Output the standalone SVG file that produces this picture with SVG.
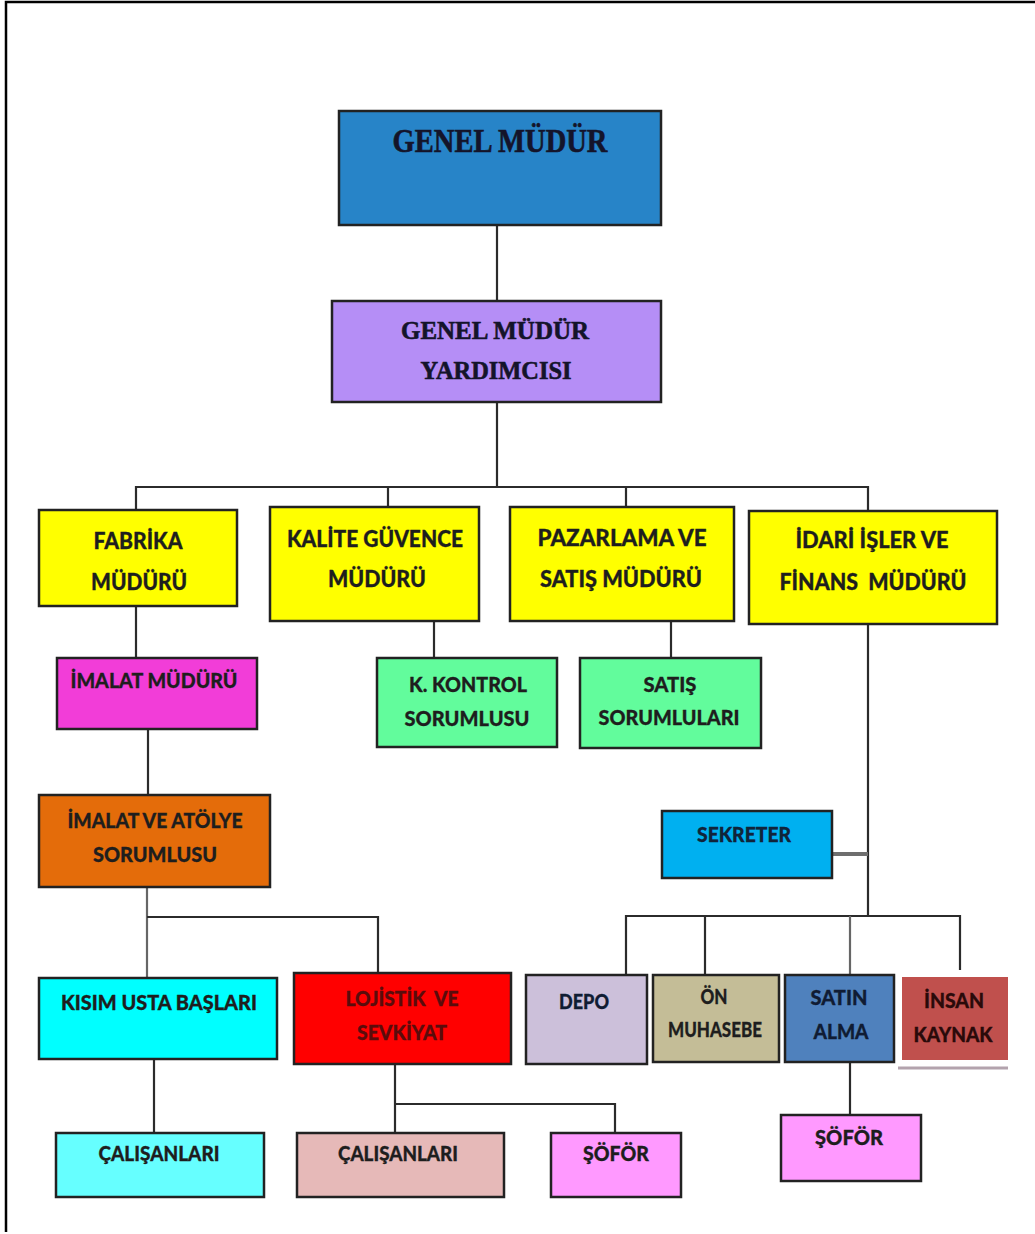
<svg xmlns="http://www.w3.org/2000/svg" width="1035" height="1234" viewBox="0 0 1035 1234">
<style>
.box{stroke:#222;stroke-width:2.5}
.c{fill:none;stroke:#2b2b2b;stroke-width:2.2}
.cg{fill:none;stroke:#666;stroke-width:2.2}
.serif{font-family:"Liberation Serif","Times New Roman",serif;font-weight:bold;fill:#14142a;stroke:#14142a;stroke-width:0.6;text-anchor:middle}
.t{font-family:Lato,"Open Sans","Liberation Sans",sans-serif;font-weight:900;text-anchor:middle;stroke-width:0.3}
.dk{fill:#1e1e1e;stroke:#1e1e1e}
.red{fill:#5a0c0c;stroke:#5a0c0c}
.nav{fill:#101c33;stroke:#101c33}
.sek{fill:#10243a;stroke:#10243a}
.mar{fill:#2a0a0a;stroke:#2a0a0a}
.t23{font-size:23px}
.t21{font-size:21px}
</style>
<rect width="1035" height="1234" fill="#ffffff"/>
<g id="frame"><path d="M6 1232V2H1035" fill="none" stroke="#000" stroke-width="2.5"/></g>

<g id="connectors">
<path class="c" d="M497 225V301"/>
<path class="c" d="M497 402V487M136 510V487H868V511M388 487V507M626 487V507"/>
<path class="c" d="M136 606V658"/>
<path class="c" d="M148 729V795"/>
<path class="c" d="M434 621V658"/>
<path class="c" d="M671 621V658"/>
<path class="c" d="M868 624V916"/>
<path d="M832 854H868" stroke="#6e6e6e" stroke-width="4" fill="none"/>
<path class="c" d="M626 975V916H960V970M705 916V975"/>
<path class="cg" d="M850 916V975"/>
<path class="cg" d="M147 887V977"/>
<path class="c" d="M147 917H378V973"/>
<path class="c" d="M154 1059V1133"/>
<path class="c" d="M395 1064V1133M395 1104H615V1133"/>
<path class="c" d="M850 1062V1115"/>
</g>

<g id="genel-mudur">
<rect class="box" x="339" y="111" width="322" height="114" fill="#2784c8"/>
<text class="serif" x="500" y="152" font-size="33" textLength="215" lengthAdjust="spacingAndGlyphs">GENEL MÜDÜR</text>
</g>
<g id="genel-mudur-yardimcisi">
<rect class="box" x="332" y="301" width="329" height="101" fill="#b58ef6"/>
<text class="serif" x="495" y="339" font-size="26" textLength="188" lengthAdjust="spacingAndGlyphs">GENEL MÜDÜR</text>
<text class="serif" x="496" y="379" font-size="26" textLength="151" lengthAdjust="spacingAndGlyphs">YARDIMCISI</text>
</g>

<g id="fabrika-muduru">
<rect class="box" x="39" y="510" width="198" height="96" fill="#ffff00"/>
<text class="t t23 dk" x="138" y="549" textLength="89" lengthAdjust="spacingAndGlyphs">FABRİKA</text>
<text class="t t23 dk" x="139" y="590" textLength="96" lengthAdjust="spacingAndGlyphs">MÜDÜRÜ</text>
</g>
<g id="kalite-guvence-muduru">
<rect class="box" x="270" y="507" width="209" height="114" fill="#ffff00"/>
<text class="t t23 dk" x="375" y="547" textLength="176" lengthAdjust="spacingAndGlyphs">KALİTE GÜVENCE</text>
<text class="t t23 dk" x="377" y="587" textLength="98" lengthAdjust="spacingAndGlyphs">MÜDÜRÜ</text>
</g>
<g id="pazarlama-satis-muduru">
<rect class="box" x="510" y="507" width="224" height="114" fill="#ffff00"/>
<text class="t t23 dk" x="622" y="546" textLength="169" lengthAdjust="spacingAndGlyphs">PAZARLAMA VE</text>
<text class="t t23 dk" x="621" y="587" textLength="162" lengthAdjust="spacingAndGlyphs">SATIŞ MÜDÜRÜ</text>
</g>
<g id="idari-isler-finans-muduru">
<rect class="box" x="749" y="511" width="248" height="113" fill="#ffff00"/>
<text class="t t23 dk" x="872" y="548" textLength="153" lengthAdjust="spacingAndGlyphs">İDARİ İŞLER VE</text>
<text class="t t23 dk" x="873" y="590" textLength="187" lengthAdjust="spacingAndGlyphs" xml:space="preserve">FİNANS  MÜDÜRÜ</text>
</g>

<g id="imalat-muduru">
<rect class="box" x="57" y="658" width="200" height="71" fill="#f23dd8"/>
<text class="t t21 dk" x="154" y="688" textLength="167" lengthAdjust="spacingAndGlyphs">İMALAT MÜDÜRÜ</text>
</g>
<g id="k-kontrol-sorumlusu">
<rect class="box" x="377" y="658" width="180" height="89" fill="#62fc9c"/>
<text class="t t21 dk" x="468" y="692" textLength="118" lengthAdjust="spacingAndGlyphs">K. KONTROL</text>
<text class="t t21 dk" x="467" y="726" textLength="125" lengthAdjust="spacingAndGlyphs">SORUMLUSU</text>
</g>
<g id="satis-sorumlulari">
<rect class="box" x="580" y="658" width="181" height="90" fill="#62fc9c"/>
<text class="t t21 dk" x="670" y="692" textLength="53" lengthAdjust="spacingAndGlyphs">SATIŞ</text>
<text class="t t21 dk" x="669" y="725" textLength="141" lengthAdjust="spacingAndGlyphs">SORUMLULARI</text>
</g>
<g id="sekreter">
<rect class="box" x="662" y="811" width="170" height="67" fill="#00b0f0"/>
<text class="t t21 sek" x="744" y="842" textLength="94" lengthAdjust="spacingAndGlyphs">SEKRETER</text>
</g>

<g id="imalat-atolye-sorumlusu">
<rect class="box" x="39" y="795" width="231" height="92" fill="#e46c0a"/>
<text class="t t21 dk" x="155" y="828" textLength="175" lengthAdjust="spacingAndGlyphs">İMALAT VE ATÖLYE</text>
<text class="t t21 dk" x="155" y="862" textLength="124" lengthAdjust="spacingAndGlyphs">SORUMLUSU</text>
</g>
<g id="kisim-usta-baslari">
<rect class="box" x="39" y="978" width="238" height="81" fill="#00ffff"/>
<text class="t t21 dk" x="159" y="1010" textLength="196" lengthAdjust="spacingAndGlyphs">KISIM USTA BAŞLARI</text>
</g>
<g id="lojistik-sevkiyat">
<rect class="box" x="294" y="973" width="217" height="91" fill="#ff0000"/>
<text class="t t21 red" x="402" y="1006" textLength="113" lengthAdjust="spacingAndGlyphs" xml:space="preserve">LOJİSTİK  VE</text>
<text class="t t21 red" x="402" y="1040" textLength="90" lengthAdjust="spacingAndGlyphs">SEVKİYAT</text>
</g>
<g id="calisanlari-1">
<rect class="box" x="56" y="1133" width="208" height="64" fill="#66ffff"/>
<text class="t t21 dk" x="159" y="1161" textLength="121" lengthAdjust="spacingAndGlyphs">ÇALIŞANLARI</text>
</g>
<g id="calisanlari-2">
<rect class="box" x="297" y="1133" width="207" height="64" fill="#e6b9b8"/>
<text class="t t21 dk" x="398" y="1161" textLength="120" lengthAdjust="spacingAndGlyphs">ÇALIŞANLARI</text>
</g>
<g id="sofor-1">
<rect class="box" x="551" y="1133" width="130" height="64" fill="#ff99ff"/>
<text class="t t21 dk" x="616" y="1161" textLength="66" lengthAdjust="spacingAndGlyphs">ŞÖFÖR</text>
</g>

<g id="depo">
<rect class="box" x="526" y="975" width="121" height="89" fill="#ccc0da"/>
<text class="t t21 nav" x="584" y="1009" textLength="50" lengthAdjust="spacingAndGlyphs">DEPO</text>
</g>
<g id="on-muhasebe">
<rect class="box" x="653" y="975" width="126" height="87" fill="#c4bd97"/>
<text class="t t21 dk" x="714" y="1004" textLength="27" lengthAdjust="spacingAndGlyphs">ÖN</text>
<text class="t t21 dk" x="715" y="1037" textLength="94" lengthAdjust="spacingAndGlyphs">MUHASEBE</text>
</g>
<g id="satin-alma">
<rect class="box" x="785" y="975" width="109" height="87" fill="#4f81bd"/>
<text class="t t21 nav" x="839" y="1005" textLength="57" lengthAdjust="spacingAndGlyphs">SATIN</text>
<text class="t t21 nav" x="841" y="1039" textLength="55" lengthAdjust="spacingAndGlyphs">ALMA</text>
</g>
<g id="insan-kaynak">
<rect x="902" y="977" width="106" height="83" fill="#c0504d"/>
<path d="M898 1068H1008" stroke="#b3a3ad" stroke-width="3"/>
<text class="t t21 mar" x="954" y="1008" textLength="60" lengthAdjust="spacingAndGlyphs">İNSAN</text>
<text class="t t21 mar" x="953" y="1042" textLength="79" lengthAdjust="spacingAndGlyphs">KAYNAK</text>
</g>
<g id="sofor-2">
<rect class="box" x="781" y="1115" width="140" height="66" fill="#ff99ff"/>
<text class="t t21 dk" x="849" y="1145" textLength="68" lengthAdjust="spacingAndGlyphs">ŞÖFÖR</text>
</g>
</svg>
